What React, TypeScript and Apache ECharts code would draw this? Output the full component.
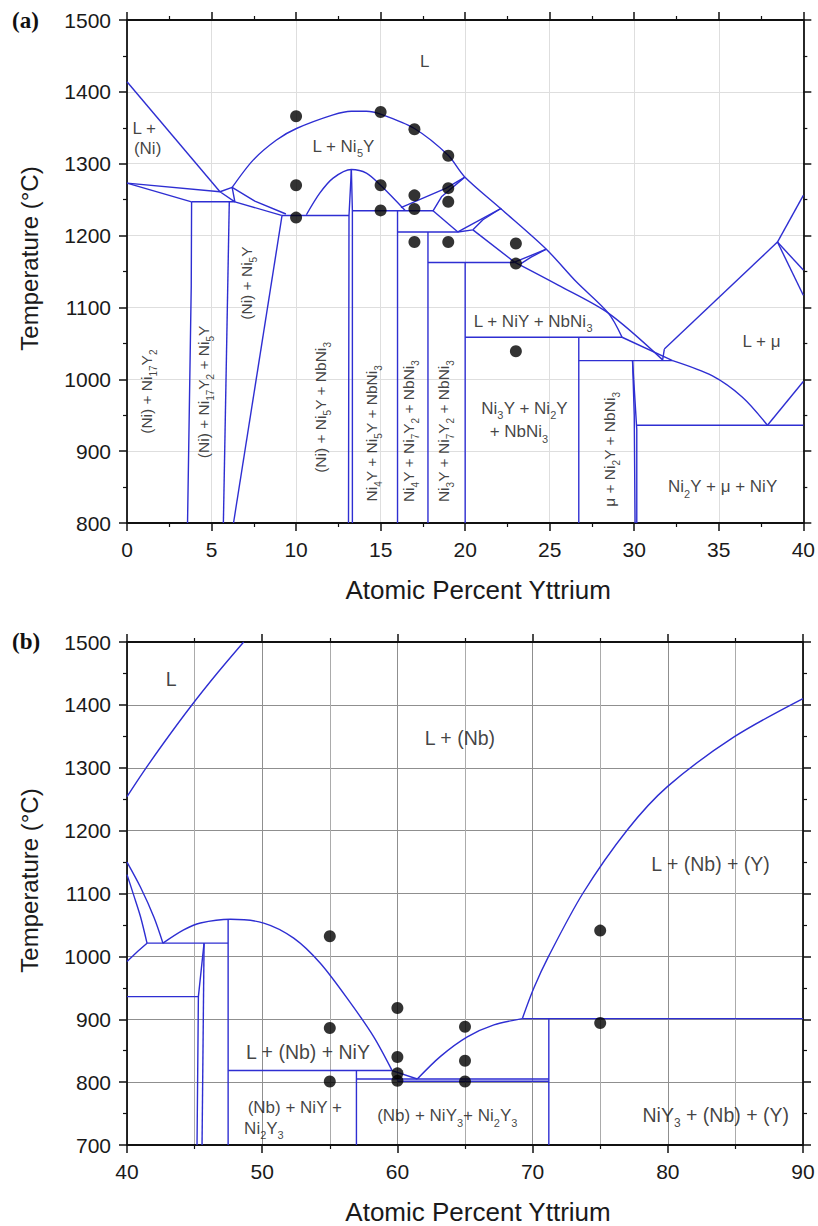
import React, { useEffect, useRef } from "react";
import * as echarts from "echarts";

type Pt = [number, number];
type Lbl = [string, number, number];

// ================= Panel (a): 0–40 at.% Y, 800–1500 °C =================
const aAxisX = { min: 0, max: 40, interval: 5 };
const aAxisY = { min: 800, max: 1500, interval: 100 };

// straight phase boundaries (a)
const aNiLiquidus: Pt[] = [[0, 1414], [5.5, 1261]];
const aNiSolidus: Pt[] = [[0, 1273], [5.5, 1261]];
const aNiSolvus: Pt[] = [[0, 1273], [3.82, 1247]];
const aEut1247: Pt[] = [[3.82, 1247], [6.38, 1247]];
const aNi17Y2Left: Pt[] = [[3.82, 1247], [3.8, 1130], [3.58, 800]];
const aNi17Y2Right: Pt[] = [[6.05, 1247], [5.7, 800]];
const aTriangle: Pt[] = [[5.5, 1261], [6.22, 1267], [6.38, 1247], [5.5, 1261]];
const aNi5YUpper: Pt[] = [[6.22, 1267], [7.56, 1248], [9.4, 1230]];
const aNi5YLower: Pt[] = [[6.38, 1247], [9.14, 1228]];
const aPer1228: Pt[] = [[9.14, 1228], [13.13, 1228]];
const aNi5YSolvus: Pt[] = [[9.17, 1228], [6.3, 800]];
const aNi4YLeft: Pt[] = [[13.27, 1292], [13.13, 1228], [13.1, 800]];
const aNi4YRight: Pt[] = [[13.27, 1292], [13.33, 1234.5], [13.33, 800]];
const aPer1234: Pt[] = [[13.33, 1234.5], [18.1, 1234.5]];
const aLine16: Pt[] = [[16.0, 1234.5], [16.0, 800]];
const aLine19a: Pt[] = [[16.2, 1239], [18.88, 1266], [19.96, 1281]];
const aLine19b: Pt[] = [[18.1, 1234.5], [18.6, 1254], [19.96, 1281]];
const aLine20: Pt[] = [[18.1, 1234.5], [19.57, 1205]];
const aPer1205: Pt[] = [[15.97, 1205], [19.57, 1205], [20.46, 1208]];
const aLine22a: Pt[] = [[19.57, 1205], [22.13, 1238]];
const aLine22b: Pt[] = [[20.46, 1208], [21.05, 1222], [22.13, 1238]];
const aLine23: Pt[] = [[20.46, 1208], [22.92, 1163]];
const aLine178: Pt[] = [[17.8, 1205], [17.8, 800]];
const aPer1162: Pt[] = [[17.8, 1162.5], [22.92, 1162.5]];
const aLine200: Pt[] = [[20.0, 1162.5], [20.0, 800]];
const aLine25a: Pt[] = [[22.92, 1163], [24.8, 1181]];
const aLine25b: Pt[] = [[23.3, 1161], [23.9, 1170], [24.8, 1181]];
const aEut1058: Pt[] = [[20.0, 1058.5], [29.28, 1058.5]];
const aLine267: Pt[] = [[26.72, 1058.5], [26.72, 800]];
const aLine32: Pt[] = [[29.28, 1058.5], [32.27, 1026]];
const aPer1026: Pt[] = [[26.72, 1026], [32.27, 1026]];
const aLine31: Pt[] = [[31.68, 1027], [31.78, 1042]];
const aMuLiqLeft: Pt[] = [[31.78, 1042], [38.47, 1191]];
const aMuLiqRight: Pt[] = [[38.47, 1191], [40, 1256]];
const aMuSolA: Pt[] = [[38.47, 1191], [40, 1152]];
const aMuSolB: Pt[] = [[38.47, 1191], [40, 1117]];
const aNiYLiq: Pt[] = [[37.88, 936], [40, 997]];
const aEut936: Pt[] = [[30.15, 936], [40, 936]];
const aNi2YLeft: Pt[] = [[29.9, 1026], [30.15, 930], [30.15, 800]];
const aNi2YRight: Pt[] = [[29.9, 1026], [30.0, 950], [30.05, 800]];

// curved phase boundaries (a)
const aNi5YDome: Pt[] = [
  [6.22, 1267], [7.46, 1305], [8.84, 1333], [10.02, 1349], [12.19, 1368], [13.27, 1373],
  [14.16, 1373], [15.0, 1369], [17.0, 1349], [18.98, 1312], [19.96, 1282], [22.13, 1237],
  [24.8, 1181], [26.56, 1136], [28.47, 1092], [29.28, 1058.5],
];
const aNi4YDome: Pt[] = [
  [10.61, 1229], [11.4, 1259], [12.19, 1280], [13.27, 1292], [14.16, 1287], [15.0, 1270], [16.45, 1235],
];
const aLine30: Pt[] = [[22.92, 1163], [25.5, 1131], [28.47, 1092], [31.68, 1027]];
const aMuSolvus: Pt[] = [[32.27, 1026], [34.6, 1005], [36.4, 975], [37.88, 936]];

const aStraight: Pt[][] = [
  aNiLiquidus, aNiSolidus, aNiSolvus, aEut1247, aNi17Y2Left, aNi17Y2Right, aTriangle, aNi5YUpper,
  aNi5YLower, aPer1228, aNi5YSolvus, aNi4YLeft, aNi4YRight, aPer1234, aLine16, aLine19a, aLine19b,
  aLine20, aPer1205, aLine22a, aLine22b, aLine23, aLine178, aPer1162, aLine200, aLine25a, aLine25b,
  aEut1058, aLine267, aLine32, aPer1026, aLine31, aMuLiqLeft, aMuLiqRight, aMuSolA, aMuSolB,
  aNiYLiq, aEut936, aNi2YLeft, aNi2YRight,
];
const aCurves: Pt[][] = [aNi5YDome, aNi4YDome, aLine30, aMuSolvus];

const aDots: Pt[] = [
  [10, 1366], [10, 1270], [10, 1225], [15, 1372], [15, 1270], [15, 1235],
  [17, 1348], [17, 1256], [17, 1237], [17, 1191], [19, 1311], [19, 1266],
  [19, 1247], [19, 1191], [23, 1189], [23, 1161], [23, 1039],
];

const aLabels: Lbl[] = [
  ["L", 17.7, 1442],
  ["L +", 1.11, 1349],
  ["(Ni)", 1.31, 1320.5],
  ["L + Ni_5Y", 12.88, 1324],
  ["L + NiY + NbNi_3", 24.1, 1081],
  ["L + μ", 37.62, 1053],
  ["Ni_3Y + Ni_2Y", 23.6, 960],
  ["+ NbNi_3", 23.27, 927],
  ["Ni_2Y + μ + NiY", 35.32, 850.6],
];
const aVerticalLabels: Lbl[] = [
  ["(Ni) + Ni_17Y_2", 1.3, 982],
  ["(Ni) + Ni_17Y_2 + Ni_5Y", 4.65, 981.6],
  ["(Ni) + Ni_5Y", 7.17, 1133],
  ["(Ni) + Ni_5Y + NbNi_3", 11.54, 960],
  ["Ni_4Y + Ni_5Y + NbNi_3", 14.55, 924],
  ["Ni_4Y + Ni_7Y_2 + NbNi_3", 16.76, 927],
  ["Ni_3Y + Ni_7Y_2 + NbNi_3", 18.82, 927],
  ["μ + Ni_2Y + NbNi_3", 28.67, 901.6],
];

// ================= Panel (b): 40–90 at.% Y, 700–1500 °C =================
const bAxisX = { min: 40, max: 90, interval: 10 };
const bAxisY = { min: 700, max: 1500, interval: 100 };

const bLLiquidus: Pt[] = [[40, 1254], [41.2, 1293], [42.7, 1339], [44.7, 1397], [46.7, 1451], [48.63, 1500]];
const bLine1150: Pt[] = [[40, 1150], [41.0, 1110], [42.0, 1062], [42.66, 1021]];
const bLine1130: Pt[] = [[40, 1130], [40.5, 1097], [41.0, 1063], [41.48, 1021]];
const bLine992: Pt[] = [[40, 992], [40.8, 1008], [41.48, 1021]];
const bNiYDome: Pt[] = [
  [42.66, 1021], [44.19, 1042], [45.43, 1053], [47.65, 1059], [50.11, 1053], [52.33, 1029],
  [54.3, 989], [56.53, 926], [58.25, 872], [59.61, 818.4],
];
const bNiY3Liq: Pt[] = [[61.47, 805], [63.19, 841], [65.17, 872], [67.14, 891], [69.24, 901]];
const bYLiquidus: Pt[] = [
  [69.24, 901], [70.1, 950], [71.18, 1000], [73.71, 1100], [77.0, 1201],
  [79.97, 1270], [84.9, 1349], [90, 1410],
];

const bPer1021: Pt[] = [[41.48, 1021], [47.48, 1021]];
const bLine475: Pt[] = [[47.48, 1059], [47.48, 700]];
const bEut936: Pt[] = [[40, 936], [45.28, 936]];
const bLine452: Pt[] = [[45.18, 700], [45.28, 936], [45.7, 1021]];
const bLine456: Pt[] = [[45.7, 1021], [45.55, 700]];
const bEut818: Pt[] = [[47.48, 818.4], [59.61, 818.4]];
const bLine570: Pt[] = [[56.97, 818.4], [56.97, 700]];
const bEut805: Pt[] = [[56.97, 805], [71.2, 805]];
const bEut802: Pt[] = [[60.0, 801.5], [71.2, 801.5]];
const bLine596: Pt[] = [[59.61, 818.4], [61.47, 805]];
const bEut901: Pt[] = [[69.24, 901], [90, 901]];
const bLine712: Pt[] = [[71.2, 901], [71.2, 700]];

const bStraight: Pt[][] = [
  bLine992, bPer1021, bLine475, bEut936, bLine452, bLine456, bEut818, bLine570, bEut805,
  bEut802, bLine596, bEut901, bLine712,
];
const bCurves: Pt[][] = [bLLiquidus, bLine1150, bLine1130, bNiYDome, bNiY3Liq, bYLiquidus];

const bDots: Pt[] = [
  [55, 1032], [55, 886], [55, 801], [60, 918], [60, 840], [60, 814], [60, 802],
  [65, 888], [65, 834], [65, 801], [75, 1041], [75, 894],
];

const bLabels: Lbl[] = [
  ["L", 43.39, 1441],
  ["L + (Nb)", 64.75, 1346.6],
  ["L + (Nb) + (Y)", 83.29, 1147],
  ["L + (Nb) + NiY", 53.51, 847.4],
  ["NiY_3 + (Nb) + (Y)", 83.67, 748],
];
const bSmallLabels: Lbl[] = [
  ["(Nb) + NiY +", 52.52, 760],
  ["Ni_2Y_3", 50.24, 727],
  ["(Nb) + NiY_3+ Ni_2Y_3", 63.8, 746.4],
];

// ================= rendering helpers =================
const FONT = "'Liberation Sans', Arial, Helvetica, sans-serif";
const BLUE = "#2e2ed2";
const INK = "#111";

const toRich = (s: string) =>
  s
    .split(/_(\d+)/)
    .map((p, i) => (i % 2 ? `{s|${p}}` : p ? `{m|${p}}` : ""))
    .join("") + "{s| }";

function boundarySeries(list: Pt[][], xi: number, yi: number, smooth: boolean) {
  return list.map((pts) => ({
    type: "line",
    xAxisIndex: xi,
    yAxisIndex: yi,
    data: pts,
    showSymbol: false,
    symbol: "none",
    smooth: smooth ? 0.3 : false,
    silent: true,
    z: 3,
    lineStyle: { color: BLUE, width: 1.4 },
  }));
}

function dotSeries(pts: Pt[], xi: number, yi: number) {
  return {
    type: "scatter",
    xAxisIndex: xi,
    yAxisIndex: yi,
    data: pts,
    symbol: "circle",
    symbolSize: 12,
    silent: true,
    z: 4,
    itemStyle: { color: "#000" },
  };
}

function labelSeries(items: Lbl[], xi: number, yi: number, fs: number, sfs: number, rotate: number) {
  const mlh = Math.round(fs);
  const slh = mlh + 4;
  const d = (slh - mlh) / 2;
  return {
    type: "scatter",
    xAxisIndex: xi,
    yAxisIndex: yi,
    symbolSize: 0,
    silent: true,
    z: 5,
    itemStyle: { color: "rgba(0,0,0,0)" },
    data: items.map(([t, x, y]) => ({ value: [x, y], t: toRich(t) })),
    label: {
      show: true,
      position: "inside",
      rotate,
      offset: rotate ? [d, 0] : [0, d],
      formatter: (p: any) => p.data.t,
      rich: {
        m: { fontSize: fs, lineHeight: mlh, verticalAlign: "top", fontFamily: FONT, color: INK },
        s: { fontSize: sfs, lineHeight: slh, verticalAlign: "bottom", fontFamily: FONT, color: INK },
      },
    },
  };
}

function axis(o: any) {
  return {
    type: "value",
    gridIndex: o.grid,
    position: o.pos,
    min: o.r.min,
    max: o.r.max,
    interval: o.r.interval,
    axisLine: { show: true, onZero: false, lineStyle: { color: INK, width: 1.8 } },
    axisTick: { show: true, inside: false, length: 8, lineStyle: { color: INK, width: 1.5 } },
    minorTick: { show: true, splitNumber: 2, length: 4, lineStyle: { color: INK, width: 1.2 } },
    axisLabel: o.labels
      ? { show: true, fontSize: 21, color: "#1a1a1a", fontFamily: FONT, margin: o.margin,
          formatter: (v: number) => String(v) }
      : { show: false },
    splitLine: o.split ? { show: true, lineStyle: { color: o.split, width: 1 } } : { show: false },
    minorSplitLine: o.minorSplit ? { show: true, lineStyle: { color: o.minorSplit, width: 1 } } : { show: false },
    name: o.name,
    nameLocation: "middle",
    nameGap: o.nameGap,
    nameRotate: o.nameRotate,
    nameTextStyle: o.name
      ? { fontSize: o.nameSize, color: "#1a1a1a", fontFamily: FONT, padding: [0, 0, 0, 26] }
      : undefined,
  };
}

export default function App() {
  const ref = useRef<HTMLDivElement>(null);
  useEffect(() => {
    document.body.style.margin = "0";
    if (!ref.current) return;
    const chart = echarts.init(ref.current, undefined, { renderer: "svg" });
    const xTitle = "Atomic Percent Yttrium";
    const yTitle = "Temperature (°C)";
    chart.setOption({
      animation: false,
      backgroundColor: "#fff",
      grid: [
        { left: 127, top: 20, width: 677, height: 503 },
        { left: 127, top: 642, width: 676, height: 503 },
      ],
      xAxis: [
        axis({ grid: 0, pos: "bottom", r: aAxisX, labels: true, margin: 16, split: "#dedede",
          name: xTitle, nameGap: 54, nameSize: 26 }),
        axis({ grid: 0, pos: "top", r: aAxisX }),
        axis({ grid: 1, pos: "bottom", r: bAxisX, labels: true, margin: 16, split: "#8f8f8f",
          minorSplit: "#ababab", name: xTitle, nameGap: 54, nameSize: 26 }),
        axis({ grid: 1, pos: "top", r: bAxisX }),
      ],
      yAxis: [
        axis({ grid: 0, pos: "left", r: aAxisY, labels: true, margin: 16, split: "#dedede",
          name: yTitle, nameGap: 86, nameRotate: 90, nameSize: 24 }),
        axis({ grid: 0, pos: "right", r: aAxisY }),
        axis({ grid: 1, pos: "left", r: bAxisY, labels: true, margin: 16, split: "#8f8f8f",
          name: yTitle, nameGap: 86, nameRotate: 90, nameSize: 24 }),
        axis({ grid: 1, pos: "right", r: bAxisY }),
      ],
      graphic: [
        { type: "text", left: 12, top: 9, style: { text: "(a)", font: "bold 23px 'Liberation Serif', 'Times New Roman', serif", fill: INK } },
        { type: "text", left: 12, top: 630, style: { text: "(b)", font: "bold 23px 'Liberation Serif', 'Times New Roman', serif", fill: INK } },
      ],
      series: [
        ...boundarySeries(aStraight, 0, 0, false),
        ...boundarySeries(aCurves, 0, 0, true),
        ...boundarySeries(bStraight, 2, 2, false),
        ...boundarySeries(bCurves, 2, 2, true),
        dotSeries(aDots, 0, 0),
        dotSeries(bDots, 2, 2),
        labelSeries(aLabels, 0, 0, 17, 11, 0),
        labelSeries(aVerticalLabels, 0, 0, 15.5, 10, 90),
        labelSeries(bLabels, 2, 2, 19.5, 12, 0),
        labelSeries(bSmallLabels, 2, 2, 17, 11, 0),
      ],
    });
    return () => chart.dispose();
  }, []);
  return <div ref={ref} style={{ width: 818, height: 1226 }} />;
}
